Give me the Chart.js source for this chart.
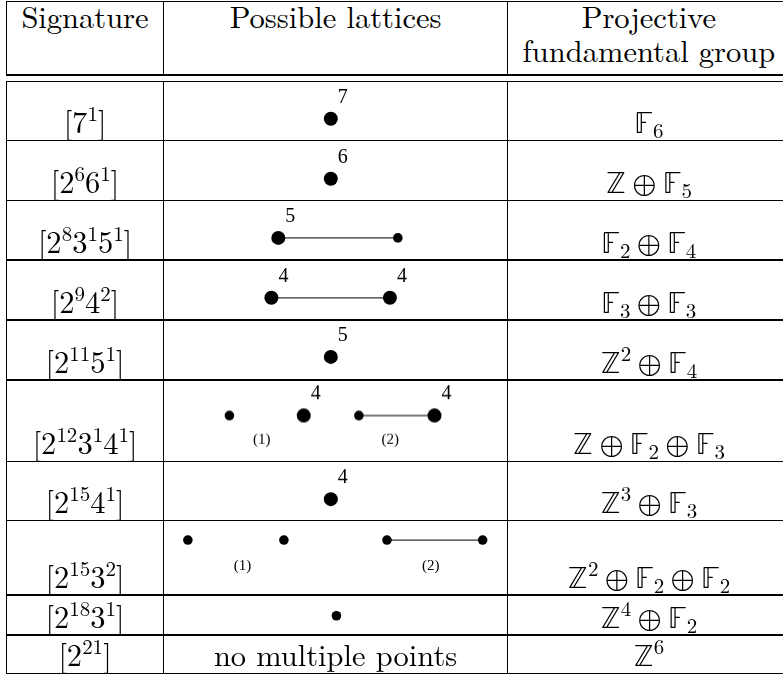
<!DOCTYPE html>
<html>
<head>
<meta charset="utf-8">
<script src="https://cdn.jsdelivr.net/npm/chart.js@4.4.1/dist/chart.umd.min.js"></script>
<style>
  html, body { margin: 0; padding: 0; background: #fff; overflow: hidden; }
  #page { position: relative; width: 783px; height: 675px; overflow: hidden; }
  .rule { position: absolute; background: #000; }
  .cell {
    position: absolute; text-align: center; white-space: nowrap; color: #000;
    font-family: 'Latin Modern Roman', 'Liberation Serif', serif; font-size: 30.5px;
  }
  .sup, .sub { position: relative; font-size: 21px; }
  .sup { top: -12px; }
  .sub { top: 5px; }
  .bb { font-family: 'Latin Modern Math', 'Noto Sans Math', 'DejaVu Sans', sans-serif; }
  .op { font-family: 'Latin Modern Math', 'Noto Sans Math', 'DejaVu Sans', sans-serif; margin: 0 6.5px; }
  .mark { display: inline-block; width: 0; height: 0; }
  .plot { position: absolute; }
</style>
</head>
<body>
<div id="page"></div>
<script>
const headers = ['Signature', 'Possible lattices', ['Projective', 'fundamental group']];

// [base, exponent] pairs of each signature
const signatures = [
  [[7, 1]],
  [[2, 6], [6, 1]],
  [[2, 8], [3, 1], [5, 1]],
  [[2, 9], [4, 2]],
  [[2, 11], [5, 1]],
  [[2, 12], [3, 1], [4, 1]],
  [[2, 15], [4, 1]],
  [[2, 15], [3, 2]],
  [[2, 18], [3, 1]],
  [[2, 21]]
];

// projective fundamental group: Z^k plus free groups F_n
const zRanks = [0, 1, 0, 0, 2, 1, 3, 2, 4, 6];
const freeRanks = [[6], [5], [2, 4], [3, 3], [4], [2, 3], [3], [2, 2], [2], []];

// lattice points (x in tenths of the cell width, level = height in the row from its bottom)
const latticeX = [
  [4.84], [4.84], [3.25, 6.87], [3.04, 6.63], [4.84],
  [1.77, 4.02, 5.69, 7.98], [4.84], [0.57, 3.44, 6.52, 9.38], [5.01], []
];
const multiplicities = [[7], [6], [5, 3], [4, 4], [5], [3, 4, 3, 4], [4], [3, 3, 3, 3], [3], []];
const latticeLevel = [0.34, 0.33, 0.34, 0.33, 0.35, 0.585, 0.33, 0.78, 0.475, 0];
const latticeEdges = [[], [], [[0, 1]], [[0, 1]], [], [[2, 3]], [], [[2, 3]], [], []];

const componentTags = [[], [], [], [], [], ['(1)', '(2)'], [], ['(1)', '(2)'], [], []];
const componentX = [[], [], [], [], [], [2.75, 6.64], [], [2.2, 7.83], [], []];
const componentLevel = [0, 0, 0, 0, 0, 0.23, 0, 0.38, 0, 0];

const emptyNote = 'no multiple points';

// table geometry
const colX = [6.5, 163.5, 507.7, 790];
const rowY = [1.8, 75, 81.7, 140.7, 200.7, 260, 320, 380, 461.7, 520.7, 595, 635, 673.3];
const lineW = 1.4;

const page = document.getElementById('page');
const texts = [];

function addRule(x, y, w, h) {
  const d = document.createElement('div');
  d.className = 'rule';
  d.style.left = x + 'px';
  d.style.top = y + 'px';
  d.style.width = w + 'px';
  d.style.height = h + 'px';
  page.appendChild(d);
}

// put the text of a cell so that its baseline lands on the given y
function placeText(t) {
  t.el.style.top = '0px';
  const off = t.mark.getBoundingClientRect().bottom - t.el.getBoundingClientRect().top;
  t.el.style.top = (t.baseline - off) + 'px';
}

function addText(col, baseline, html) {
  const d = document.createElement('div');
  d.className = 'cell';
  d.style.fontFamily = "'Latin Modern Roman', 'Liberation Serif', serif";
  d.style.left = colX[col] + 'px';
  d.style.width = (colX[col + 1] - colX[col]) + 'px';
  d.innerHTML = html + '<span class="mark"></span>';
  page.appendChild(d);
  const t = { el: d, mark: d.querySelector('.mark'), baseline: baseline };
  texts.push(t);
  placeText(t);
}

// grid
rowY.forEach(y => addRule(colX[0] - lineW / 2, y - lineW / 2, colX[3] - colX[0] + lineW, lineW));
colX.forEach(x => {
  addRule(x - lineW / 2, rowY[0], lineW, rowY[1] - rowY[0]);
  addRule(x - lineW / 2, rowY[2], lineW, rowY[rowY.length - 1] - rowY[2]);
});

// header
addText(0, 28, headers[0]);
addText(1, 28, headers[1]);
addText(2, 28, headers[2][0]);
addText(2, 62, headers[2][1]);

const sup = v => '<span class="sup">' + v + '</span>';
const sub = v => '<span class="sub">' + v + '</span>';

function signatureHtml(terms) {
  return '[' + terms.map(([b, e]) => b + sup(e)).join('') + ']';
}

function groupHtml(k, frees) {
  const parts = [];
  if (k > 0) parts.push('<span class="bb">\u2124</span>' + (k > 1 ? sup(k) : ''));
  frees.forEach(n => parts.push('<span class="bb">\u{1D53D}</span>' + sub(n)));
  return parts.join('<span class="op">\u2295</span>');
}

function pointRadius(m) {
  return m >= 4 ? 7 : 4.8;
}

function labelPlugin(i) {
  return {
    id: 'latticeLabels' + i,
    afterDatasetsDraw(chart) {
      const ctx = chart.ctx;
      const xs = chart.scales.x, ys = chart.scales.y;
      ctx.save();
      ctx.fillStyle = '#000';
      ctx.textAlign = 'center';
      ctx.textBaseline = 'middle';
      ctx.font = '20px "Liberation Serif"';
      latticeX[i].forEach((x, j) => {
        const m = multiplicities[i][j];
        if (m < 4) return;
        ctx.fillText(String(m), xs.getPixelForValue(x) + 12, ys.getPixelForValue(latticeLevel[i]) - 21);
      });
      ctx.font = '15px "Liberation Serif"';
      componentTags[i].forEach((t, j) => {
        ctx.fillText(t, xs.getPixelForValue(componentX[i][j]), ys.getPixelForValue(componentLevel[i]));
      });
      ctx.restore();
    }
  };
}

signatures.forEach((sig, i) => {
  const top = rowY[i + 2], bottom = rowY[i + 3];
  const baseline = bottom - 7.5;
  addText(0, baseline, signatureHtml(sig));
  addText(2, baseline, groupHtml(zRanks[i], freeRanks[i]));
  if (!latticeX[i].length) {
    addText(1, baseline, emptyNote);
    return;
  }

  const box = document.createElement('div');
  box.className = 'plot';
  box.style.left = colX[1] + 'px';
  box.style.top = top + 'px';
  box.style.width = (colX[2] - colX[1]) + 'px';
  box.style.height = (bottom - top) + 'px';
  const canvas = document.createElement('canvas');
  box.appendChild(canvas);
  page.insertBefore(box, page.firstChild);

  const points = latticeX[i].map((x, j) => ({ x: x, y: latticeLevel[i], m: multiplicities[i][j] }));
  const datasets = [{
    label: 'points',
    data: points,
    pointRadius: points.map(p => pointRadius(p.m)),
    pointBackgroundColor: '#000',
    pointBorderWidth: 0,
    showLine: false,
    order: 0
  }];
  latticeEdges[i].forEach(([a, b]) => {
    datasets.push({
      label: 'edge',
      data: [points[a], points[b]],
      showLine: true,
      borderColor: '#333',
      borderWidth: 1.2,
      pointRadius: 0,
      order: 1
    });
  });

  new Chart(canvas, {
    type: 'scatter',
    data: { datasets: datasets },
    options: {
      responsive: true,
      maintainAspectRatio: false,
      animation: false,
      events: [],
      layout: { padding: 0 },
      plugins: { legend: { display: false }, tooltip: { enabled: false } },
      scales: {
        x: { type: 'linear', min: 0, max: 10, display: false },
        y: { type: 'linear', min: 0, max: 1, display: false }
      }
    },
    plugins: [labelPlugin(i)]
  });
});

document.fonts.ready.then(() => texts.forEach(placeText));
</script>
</body>
</html>
